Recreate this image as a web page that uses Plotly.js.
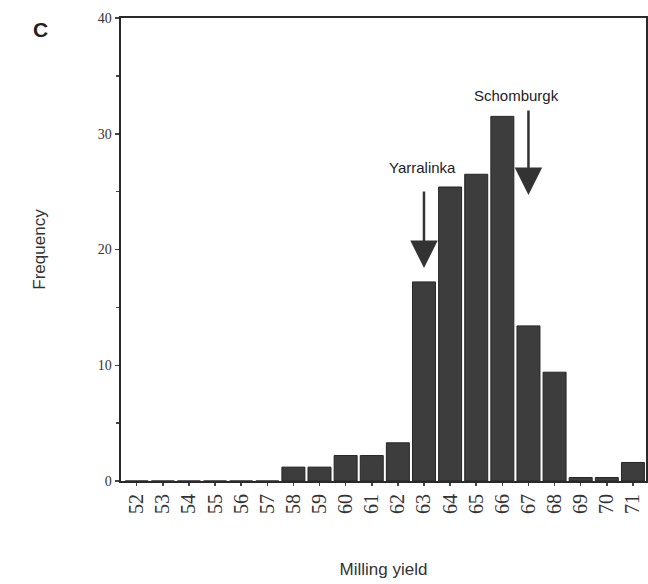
<!DOCTYPE html>
<html>
<head>
<meta charset="utf-8">
<script src="https://cdn.plot.ly/plotly-3.0.1.min.js"></script>
<style>html,body{margin:0;padding:0;background:#fff;}#chart{width:648px;height:584px;}</style>
</head>
<body>
<div id="chart"></div>
<script>
const categories = ['52','53','54','55','56','57','58','59','60','61','62','63','64','65','66','67','68','69','70','71'];
const frequency = [0,0,0,0,0,0,1.2,1.2,2.2,2.2,3.3,17.2,25.4,26.5,31.5,13.4,9.4,0.3,0.3,1.6];
const yTicks = [0,10,20,30,40];
const cultivars = ['Yarralinka','Schomburgk'];
const cultivarYield = ['63','67'];

const idxY = categories.indexOf(cultivarYield[0]);
const idxS = categories.indexOf(cultivarYield[1]);

const trace = {
  type: 'bar',
  x: categories,
  y: frequency,
  marker: {color: '#3d3d3d', line: {color: '#262626', width: 1}},
  hoverinfo: 'skip'
};

const layout = {
  width: 648, height: 584,
  margin: {l: 121, r: 2, t: 18, b: 103},
  paper_bgcolor: '#fff', plot_bgcolor: '#fff',
  showlegend: false,
  bargap: 0.12,
  xaxis: {
    type: 'category',
    range: [-0.6, 19.5],
    tickangle: -90,
    tickfont: {family: 'Liberation Serif', size: 20, color: '#333'},
    ticks: 'outside', ticklen: 3, tickwidth: 1.5, tickcolor: '#444',
    showline: true, mirror: true, linecolor: '#2a2a2a', linewidth: 2,
    showgrid: false, zeroline: false,
    automargin: false,
    title: {text: 'Milling yield', font: {family: 'Liberation Sans', size: 17, color: '#333'}, standoff: 50}
  },
  yaxis: {
    range: [0, 40],
    tickvals: yTicks,
    ticktext: yTicks.map(String),
    tickfont: {family: 'Liberation Serif', size: 14, color: '#333'},
    ticks: 'outside', ticklen: 4, tickwidth: 1.5, tickcolor: '#444',
    minor: {dtick: 5, ticks: 'outside', ticklen: 3, tickwidth: 1.5, tickcolor: '#444', showgrid: false},
    showline: true, mirror: true, linecolor: '#2a2a2a', linewidth: 2.5,
    showgrid: false, zeroline: false,
    automargin: false,
    title: {text: 'Frequency', font: {family: 'Liberation Sans', size: 17, color: '#333'}, standoff: 48}
  },
  annotations: [
    {xref: 'paper', yref: 'paper', x: -0.154, y: 0.975, text: '<b>C</b>', showarrow: false,
     font: {family: 'Liberation Sans', size: 21, color: '#222'}, xanchor: 'center', yanchor: 'middle'},
    {x: idxY - 0.05, y: 27.1, text: cultivars[0], showarrow: false,
     font: {family: 'Liberation Sans', size: 15, color: '#222'}, xanchor: 'center', yanchor: 'middle'},
    {x: idxS - 0.45, y: 33.3, text: cultivars[1], showarrow: false,
     font: {family: 'Liberation Sans', size: 15, color: '#222'}, xanchor: 'center', yanchor: 'middle'},
    {x: idxY, y: 18.4, text: '', showarrow: true, ax: 0, ay: -78,
     arrowhead: 2, arrowsize: 2.2, arrowwidth: 2.5, arrowcolor: '#333', standoff: 0},
    {x: idxS, y: 24.7, text: '', showarrow: true, ax: 0, ay: -86,
     arrowhead: 2, arrowsize: 2.2, arrowwidth: 2.5, arrowcolor: '#333', standoff: 0}
  ]
};

Plotly.newPlot('chart', [trace], layout, {displayModeBar: false, staticPlot: true});
</script>
</body>
</html>
